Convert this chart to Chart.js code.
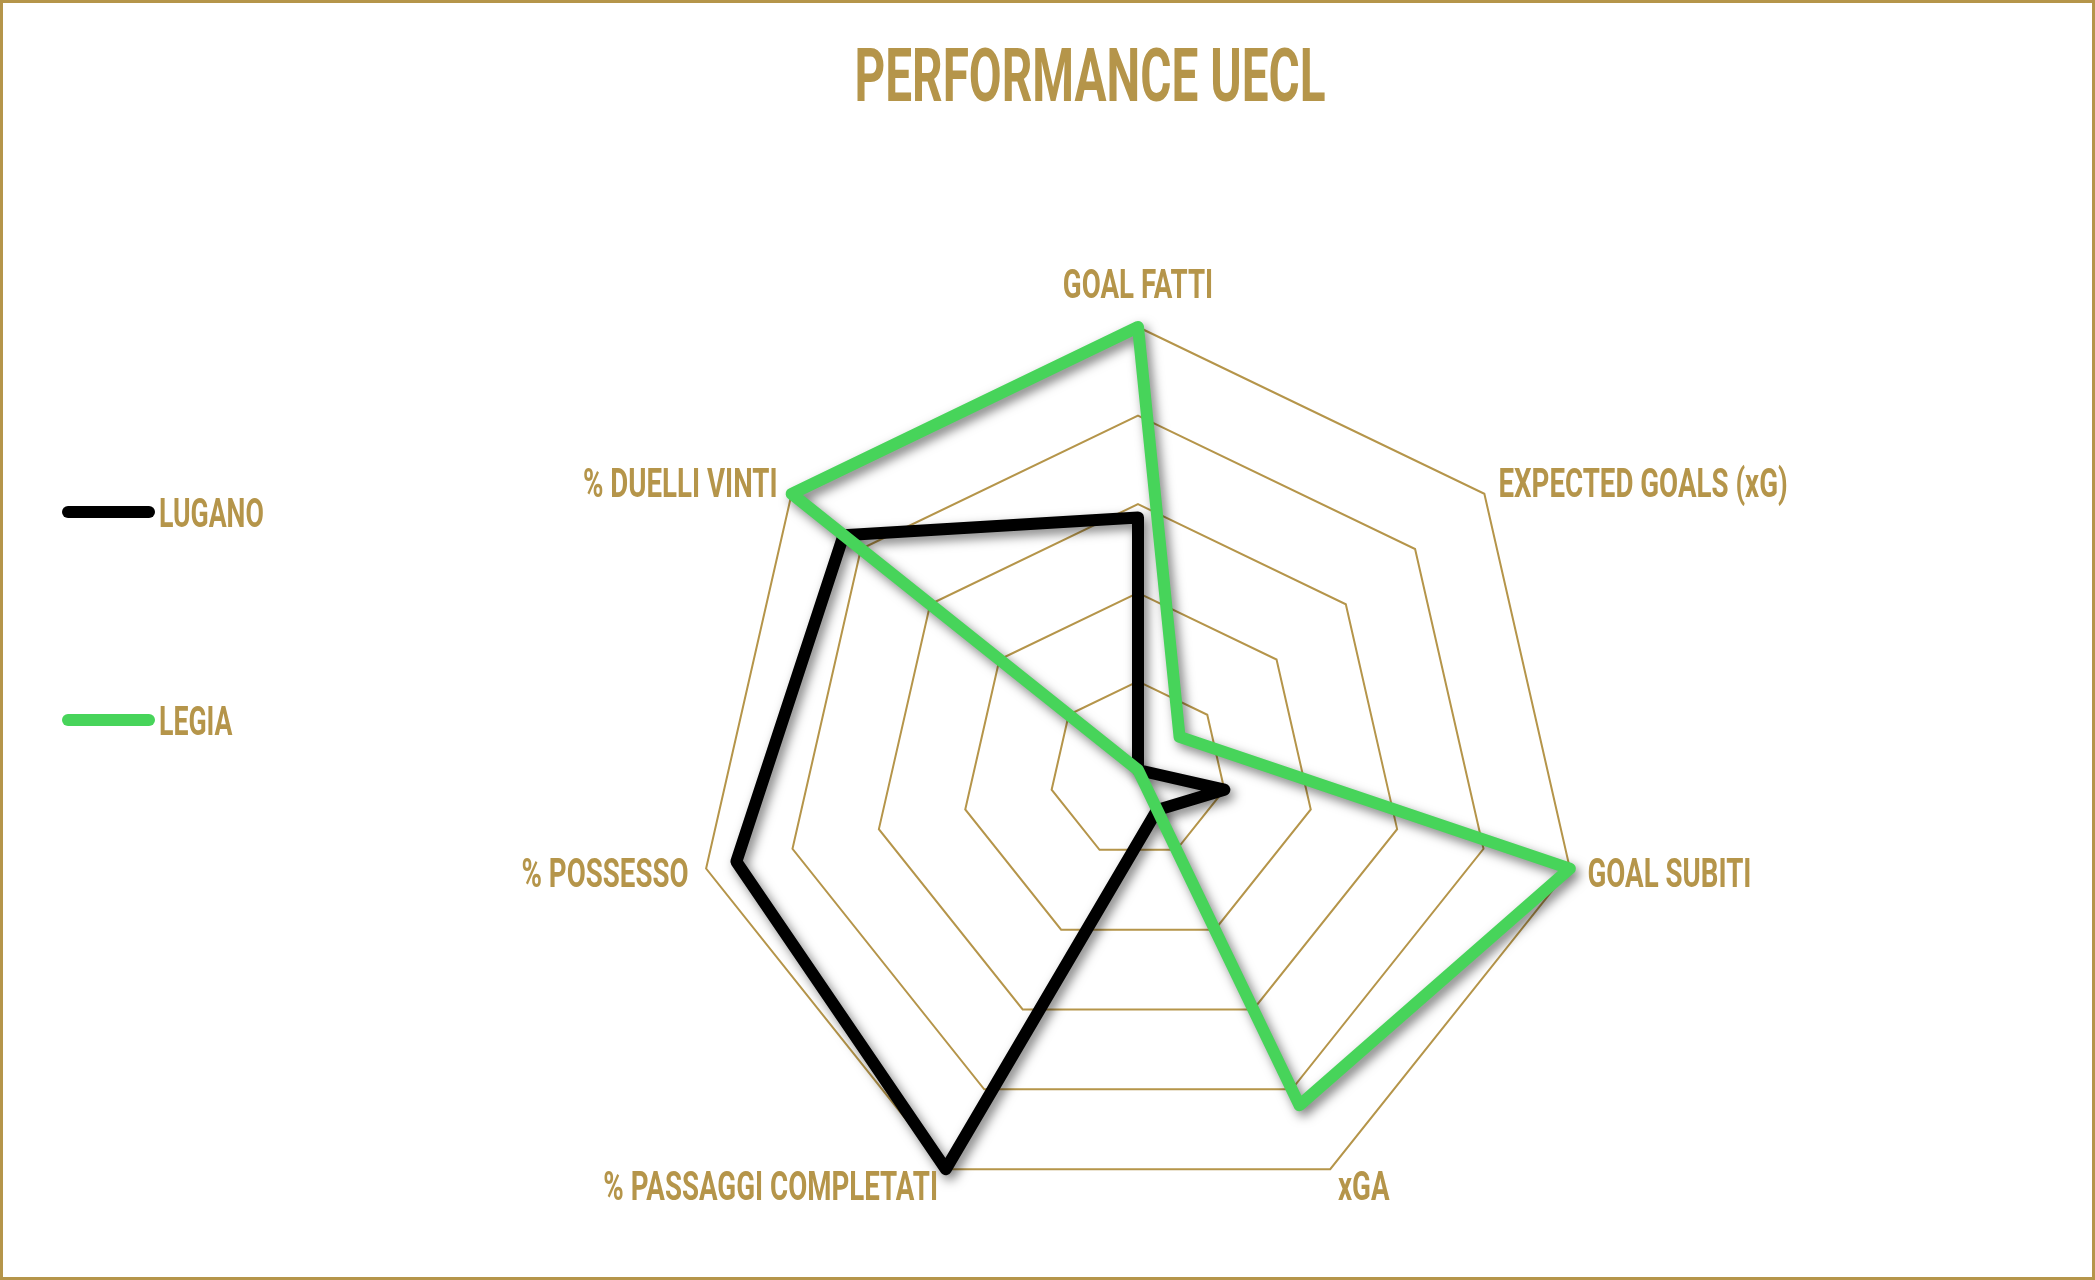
<!DOCTYPE html>
<html>
<head>
<meta charset="utf-8">
<script src="https://cdn.jsdelivr.net/npm/chart.js@4.4.1/dist/chart.umd.min.js"></script>
<style>
  html, body { margin: 0; padding: 0; background: #ffffff; }
  #wrap { width: 2095px; height: 1280px; position: relative; }
</style>
</head>
<body>
<div id="wrap"><canvas id="c"></canvas></div>
<script>
// ---- data ----
const chartTitle = 'PERFORMANCE UECL';
const categories = ['GOAL FATTI', 'EXPECTED GOALS (xG)', 'GOAL SUBITI', 'xGA', '% PASSAGGI COMPLETATI', '% POSSESSO', '% DUELLI VINTI'];
const seriesNames = ['LUGANO', 'LEGIA'];
const luganoValues = [57, 0, 20, 10, 100, 93, 85];
const legiaValues = [100, 12, 100, 84, 0, 0, 100];
const scaleMin = 0;
const scaleMax = 100;
const scaleStep = 20;

// ---- style ----
const GOLD = '#B5954A';
const BLACK = '#000000';
const GREEN = '#47D45A';
const FONT = 'Roboto, "DejaVu Sans", sans-serif';

function drawCondensed(ctx, text, x, yCenter, size, align, squeeze) {
  ctx.save();
  ctx.font = '700 ' + size + 'px ' + FONT;
  ctx.fillStyle = GOLD;
  ctx.textAlign = align;
  ctx.textBaseline = 'alphabetic';
  ctx.translate(x, yCenter + size * 0.3555);
  ctx.scale(squeeze, 1);
  ctx.fillText(text, 0, 0);
  ctx.restore();
}

const shadowPlugin = {
  id: 'lineShadow',
  beforeDatasetDraw(chart) {
    const ctx = chart.ctx;
    ctx.save();
    ctx.shadowColor = 'rgba(0,0,0,0.5)';
    ctx.shadowBlur = 11;
    ctx.shadowOffsetX = 4;
    ctx.shadowOffsetY = 5;
  },
  afterDatasetDraw(chart) {
    chart.ctx.restore();
  }
};

const textPlugin = {
  id: 'condensedText',
  afterDraw(chart) {
    const ctx = chart.ctx;
    const r = chart.scales.r;
    // title
    drawCondensed(ctx, chartTitle, 1090, 75, 74, 'center', 0.645);
    // point labels
    const labels = chart.data.labels;
    for (let i = 0; i < labels.length; i++) {
      const p = r.getPointPosition(i, r.drawingArea + 18);
      const dx = p.x - r.xCenter;
      let align = 'center';
      if (dx > 2) align = 'left';
      else if (dx < -2) align = 'right';
      let cy = p.y;
      if (align === 'center') cy = p.y < r.yCenter ? p.y - 26 : p.y + 26;
      drawCondensed(ctx, labels[i], p.x, cy, 41, align, 0.675);
    }
    // legend
    const legendX = 62, legendY = 512, legendGap = 208, swatchLen = 93;
    chart.data.datasets.forEach((ds, i) => {
      const y = legendY + i * legendGap;
      ctx.save();
      ctx.strokeStyle = ds.borderColor;
      ctx.lineWidth = 12;
      ctx.lineCap = 'round';
      ctx.beginPath();
      ctx.moveTo(legendX + 6, y);
      ctx.lineTo(legendX + swatchLen - 6, y);
      ctx.stroke();
      ctx.restore();
      drawCondensed(ctx, ds.label, legendX + swatchLen + 4, y, 41, 'left', 0.65);
    });
    // frame
    ctx.save();
    ctx.strokeStyle = GOLD;
    ctx.lineWidth = 3;
    ctx.strokeRect(1.5, 1.5, chart.width - 3, chart.height - 3);
    ctx.restore();
  }
};

new Chart(document.getElementById('c'), {
  type: 'radar',
  data: {
    labels: categories,
    datasets: [
      {
        label: seriesNames[0],
        data: luganoValues,
        borderColor: BLACK,
        backgroundColor: 'rgba(0,0,0,0)',
        borderWidth: 12,
        borderJoinStyle: 'round',
        borderCapStyle: 'round',
        pointRadius: 0,
        fill: false,
        order: 1
      },
      {
        label: seriesNames[1],
        data: legiaValues,
        borderColor: GREEN,
        backgroundColor: 'rgba(0,0,0,0)',
        borderWidth: 12,
        borderJoinStyle: 'round',
        borderCapStyle: 'round',
        pointRadius: 0,
        fill: false,
        order: 0
      }
    ]
  },
  options: {
    responsive: true,
    maintainAspectRatio: false,
    animation: false,
    layout: { padding: { top: 327, bottom: 67, left: 538, right: 357 } },
    elements: { line: { tension: 0 } },
    plugins: {
      legend: { display: false },
      title: { display: false },
      tooltip: { enabled: false }
    },
    scales: {
      r: {
        min: scaleMin,
        max: scaleMax,
        ticks: { stepSize: scaleStep, display: false },
        grid: { circular: false, color: GOLD, lineWidth: 2 },
        angleLines: { display: false },
        pointLabels: { display: false }
      }
    }
  },
  plugins: [shadowPlugin, textPlugin]
});
</script>
</body>
</html>
